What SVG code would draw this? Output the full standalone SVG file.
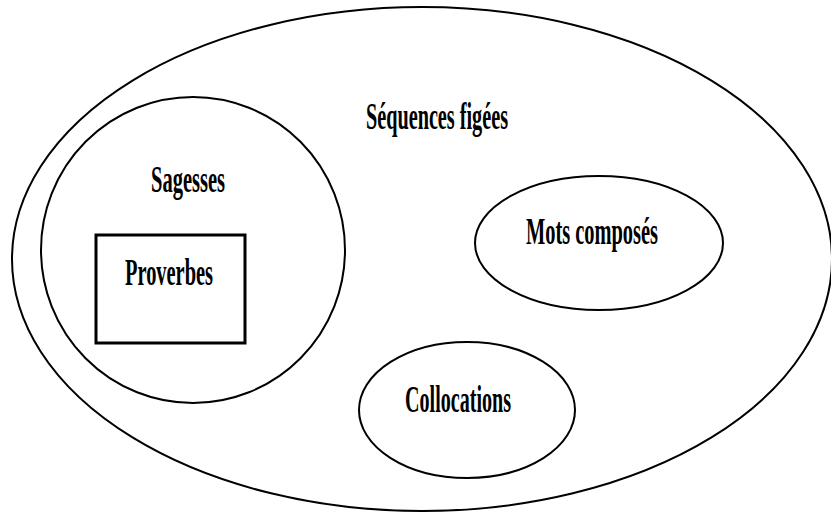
<svg xmlns="http://www.w3.org/2000/svg" width="831" height="513" viewBox="0 0 831 513">
<style>
.shape{fill:none;stroke:#000;stroke-width:2}
.box{fill:none;stroke:#000;stroke-width:3}
.lbl{font-family:"Liberation Serif","Times New Roman",serif;font-weight:bold;font-size:38px;fill:#000}
</style>
<rect width="831" height="513" fill="#fff"/>
<g id="sequences-figees">
<ellipse class="shape" cx="422" cy="259" rx="410" ry="252"/>
<text class="lbl" x="366" y="129" textLength="142" lengthAdjust="spacingAndGlyphs">Séquences figées</text>
</g>
<g id="sagesses">
<ellipse class="shape" cx="193" cy="250" rx="152" ry="153"/>
<text class="lbl" x="151" y="192" textLength="74" lengthAdjust="spacingAndGlyphs">Sagesses</text>
</g>
<g id="proverbes">
<rect class="box" x="96" y="235" width="149" height="108"/>
<text class="lbl" x="125" y="285" textLength="88" lengthAdjust="spacingAndGlyphs">Proverbes</text>
</g>
<g id="mots-composes">
<ellipse class="shape" cx="599" cy="243" rx="124" ry="67"/>
<text class="lbl" x="526" y="244" textLength="132" lengthAdjust="spacingAndGlyphs">Mots composés</text>
</g>
<g id="collocations">
<ellipse class="shape" cx="467" cy="410" rx="108" ry="68"/>
<text class="lbl" x="405" y="412" textLength="106" lengthAdjust="spacingAndGlyphs">Collocations</text>
</g>
<g id="connectors"></g>
</svg>
